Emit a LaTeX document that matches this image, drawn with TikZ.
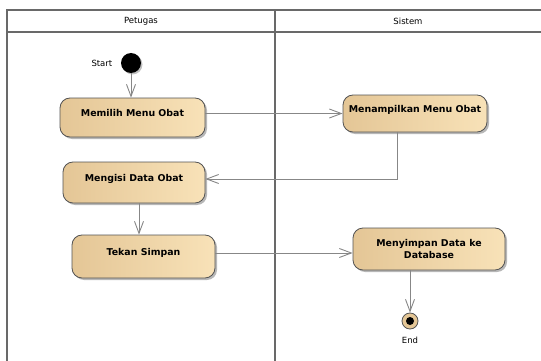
\documentclass[tikz,border=0pt]{standalone}
\usepackage{fontspec}
\setmainfont{DejaVu Sans}
\usepackage{tikz}
\usetikzlibrary{arrows.meta,shadows}

\definecolor{actleft}{RGB}{228,198,150}
\definecolor{actright}{RGB}{248,226,184}
\definecolor{lanegray}{RGB}{105,105,105}
\definecolor{flowgray}{RGB}{135,135,135}

\begin{document}
\begin{tikzpicture}%
        [x=1pt, y=-1pt,
        lane/.style={draw=lanegray, line width=1.3pt},
        header/.style={font=\fontsize{8.5}{10}\selectfont},
        flow/.style={draw=flowgray, line width=0.9pt, -{Straight Barb[length=12pt,width=9pt,line width=0.9pt]}},
        activity/.style={draw=gray!65!black, line width=0.8pt, rounded corners=10pt,
            left color=actleft, right color=actright,
            drop shadow={shadow xshift=2pt, shadow yshift=-2pt, fill=gray!80, opacity=0.7},
            font=\fontsize{9.4}{12}\selectfont\bfseries, align=center, inner sep=0pt},
        oneline/.style={text height=7pt, text depth=10pt},
        initial/.style={circle, fill=black, minimum size=20pt, inner sep=0pt,
            drop shadow={shadow xshift=1.5pt, shadow yshift=-1.5pt, fill=gray!70, opacity=0.7}},
        final/.style={circle, draw=gray!65!black, line width=0.8pt, fill=actleft, minimum size=16pt, inner sep=0pt},
        tag/.style={font=\fontsize{8.5}{10}\selectfont}]

    \useasboundingbox (0,0) rectangle (541,361);

    %% Drawing the swimlanes
    \draw[lane] (541,10) -- (7,10) -- (7,361);
    \draw[lane] (7,32) -- (541,32);
    \draw[lane] (275,10) -- (275,361);
    \node[header] (petugas) at (141,21) {Petugas};
    \node[header] (sistem) at (408,21) {Sistem};

    %%
    %% Drawing the activities
    %%
    \node[initial, label={[tag, label distance=5pt]180:Start}] (start) at (131,63) {};
    \node[activity, oneline, minimum width=145pt, minimum height=39pt] (memilih) at (132.5,117.5) {Memilih Menu Obat};
    \node[activity, oneline, minimum width=144pt, minimum height=37pt] (menampilkan) at (415,113.5) {Menampilkan Menu Obat};
    \node[activity, oneline, minimum width=142pt, minimum height=41pt] (mengisi) at (134,182.5) {Mengisi Data Obat};
    \node[activity, oneline, minimum width=143pt, minimum height=43pt] (tekan) at (143.5,256.5) {Tekan Simpan};
    \node[activity, minimum width=152pt, minimum height=42pt] (menyimpan) at (429,249) {Menyimpan Data ke\\Database};
    \node[final, label={[tag, label distance=4pt]270:End}] (finish) at (410,321) {};
    \fill[black] (finish) circle (4pt);

    %%
    %% Drawing the transitions
    %%
    \draw[flow] (start) -- (start |- memilih.north);
    \draw[flow] (menampilkan.west -| memilih.east) -- (menampilkan.west);
    \draw[flow] ([xshift=-18pt]menampilkan.south) |- ([yshift=3.5pt]mengisi.east);
    \draw[flow] ([xshift=5pt]mengisi.south) -- ([xshift=5pt]mengisi.south |- tekan.north);
    \draw[flow] ([yshift=3.5pt]tekan.east) -- ([yshift=3.5pt]tekan.east -| menyimpan.west);
    \draw[flow] (finish.north |- menyimpan.south) -- (finish);
    %%
    %%
\end{tikzpicture}
\end{document}
